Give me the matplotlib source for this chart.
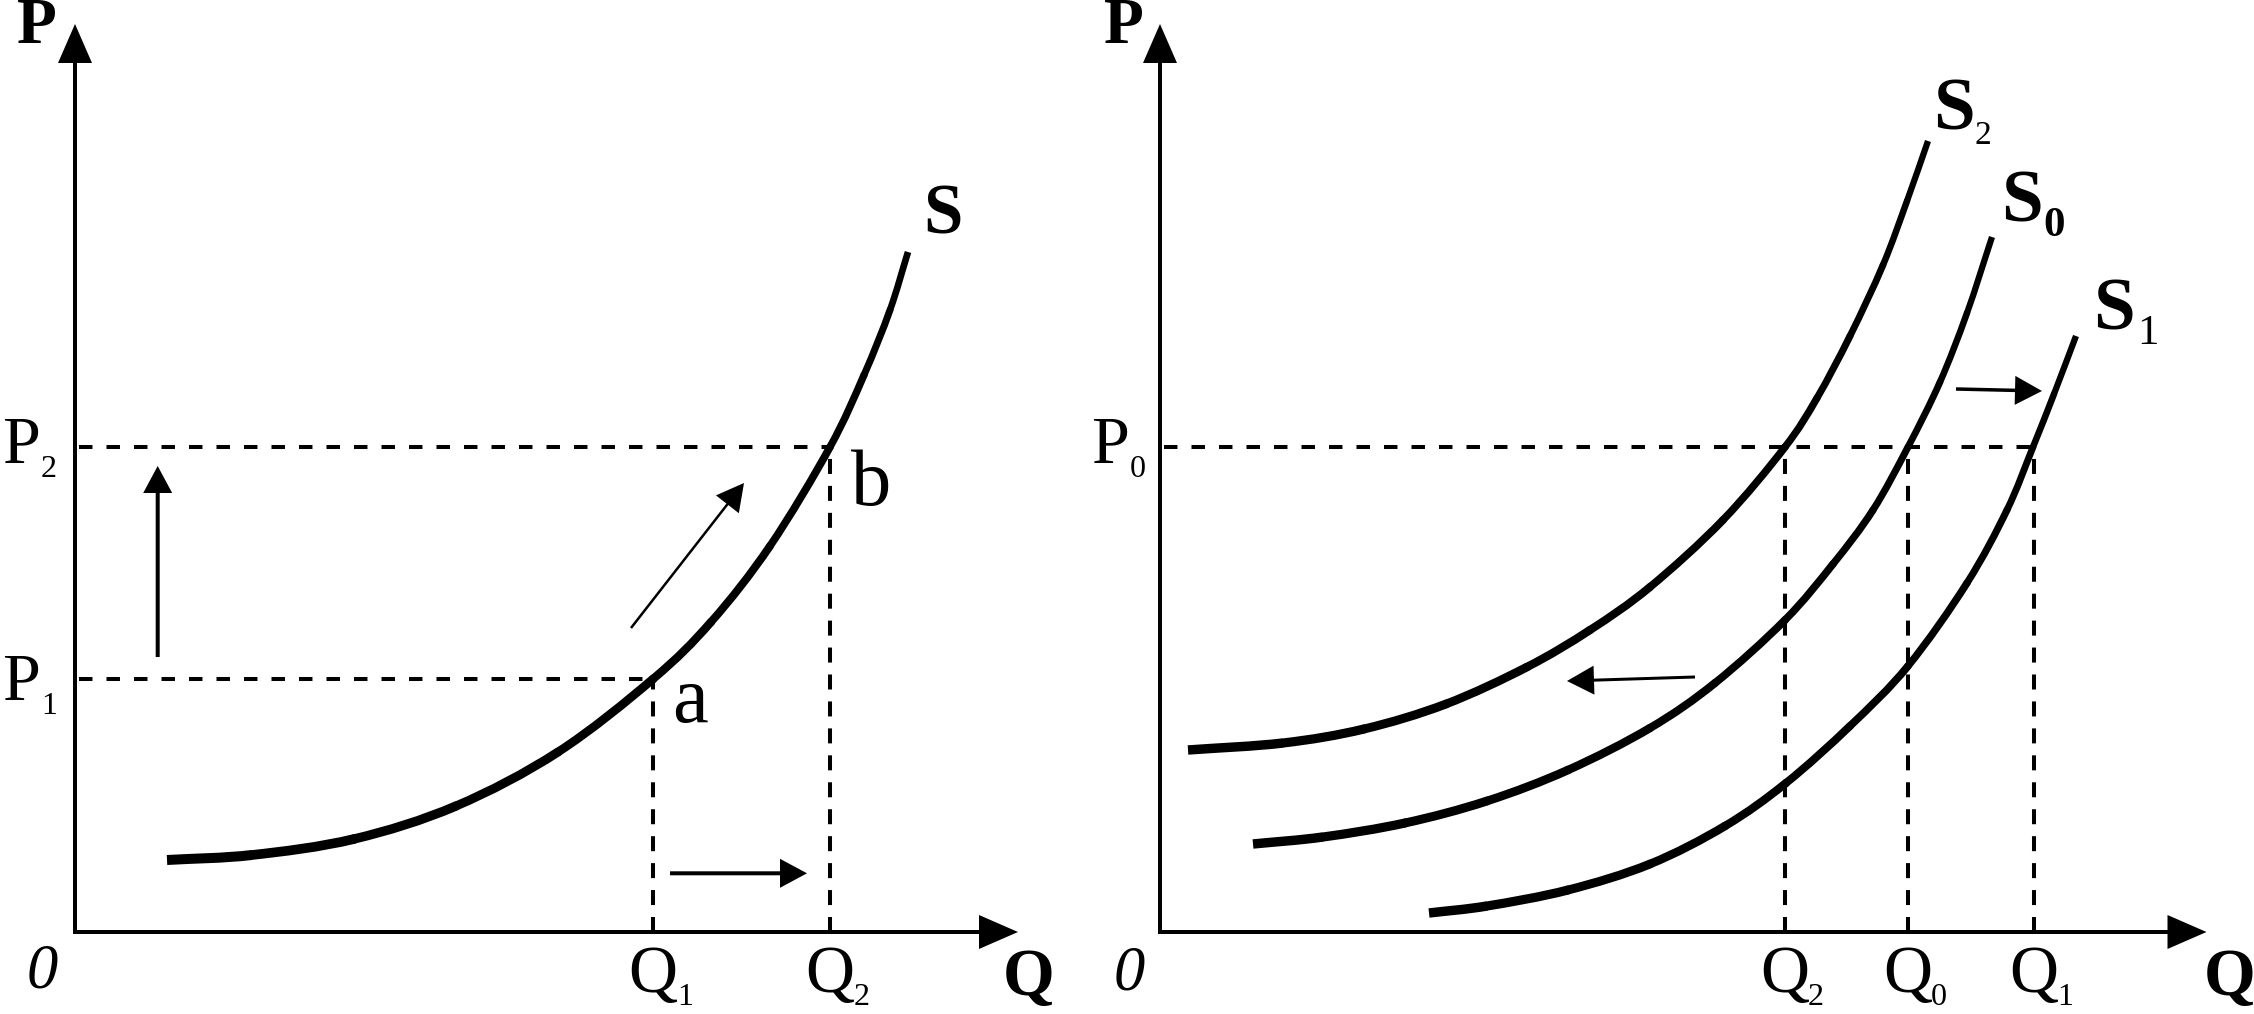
import numpy as np
import matplotlib
matplotlib.use("Agg")
import matplotlib.pyplot as plt
from matplotlib.path import Path
from matplotlib.patches import PathPatch

plt.rcParams['lines.scale_dashes'] = False
SERIF = ['Liberation Serif', 'DejaVu Serif']

# --- data (units: quantity Q, price P) ---
# left panel: movement along one supply curve
s_q = [9.2, 17.7, 27.9, 38.1, 48.3, 57.8, 63.6, 69.5, 75.5, 78.9, 81.5, 83.3]
s_p = [7.2, 7.7, 9.3, 12.6, 18.0, 25.3, 31.0, 38.6, 48.5, 55.7, 62.2, 68.0]
left_prices = [25.3, 48.5]          # P1, P2
left_price_subs = ['1', '2']
left_qty = [57.8, 75.5]             # Q1, Q2
left_qty_subs = ['1', '2']
left_arrows = [((8.27, 27.5), (8.27, 46.6)),
               ((55.6, 30.4), (66.9, 44.9)),
               ((59.5, 5.87), (73.2, 5.87))]

# right panel: shifts of the supply curve
s2_q = [2.8, 12.3, 20.4, 28.6, 36.7, 43.0, 49.0, 56.3, 62.5, 65.7, 69.0, 72.3, 74.7, 76.8]
s2_p = [18.2, 18.9, 20.3, 22.8, 26.5, 30.2, 34.5, 41.2, 48.5, 53.4, 59.6, 66.7, 73.1, 79.1]
s0_q = [9.3, 16.3, 24.5, 32.7, 40.8, 49.0, 55.5, 62.5, 67.3, 71.3, 74.8, 78.0, 80.7, 83.2]
s0_p = [8.8, 9.5, 10.9, 13.1, 16.2, 20.4, 24.9, 31.2, 36.8, 42.2, 48.5, 55.0, 61.9, 69.5]
s1_q = [26.9, 32.7, 40.8, 49.0, 56.5, 62.6, 69.0, 74.8, 80.7, 84.7, 87.3, 89.4, 91.6]
s1_p = [1.9, 2.6, 4.2, 6.8, 10.6, 14.9, 20.6, 26.6, 34.9, 42.2, 48.5, 53.8, 59.6]
p0 = 48.5
right_qty = [62.5, 74.8, 87.4]      # Q2, Q0, Q1
right_qty_subs = ['2', '0', '1']
right_arrows = [((53.5, 25.5), (40.7, 25.1)),
                ((79.6, 54.3), (88.2, 54.1))]

DASH_H = (0, (9.7, 10.1))
DASH_V = (0, (10.8, 8.6))


def smooth_curve(ax, q, p, lw_start, lw_end):
    # smooth stroke through the read points, slightly thinner towards the top
    pts = np.column_stack([q, p]).astype(float)
    ext = np.vstack([2 * pts[0] - pts[1], pts, 2 * pts[-1] - pts[-2]])
    n = len(pts)
    widths = np.linspace(lw_start, lw_end, n - 1)
    for i in range(n - 1):
        a, b, c, d = ext[i], ext[i + 1], ext[i + 2], ext[i + 3]
        path = Path([b, b + (c - a) / 6, c - (d - b) / 6, c],
                    [Path.MOVETO, Path.CURVE4, Path.CURVE4, Path.CURVE4])
        cap = 'butt' if i in (0, n - 2) else 'round'
        ax.add_patch(PathPatch(path, facecolor='none', edgecolor='black',
                               lw=widths[i], capstyle=cap))


def draw_axes(ax, xmax, ymax):
    ax.arrow(-0.2, 0, xmax + 0.2, 0, width=0.4, head_width=3.4, head_length=3.9,
             length_includes_head=True, color='black', lw=0)
    ax.arrow(0, -0.2, 0, ymax + 0.2, width=0.4, head_width=3.4, head_length=3.9,
             length_includes_head=True, color='black', lw=0)


def small_arrow(ax, start, end, width=0.4, hw=2.9, hl=2.7):
    ax.arrow(start[0], start[1], end[0] - start[0], end[1] - start[1], width=width,
             head_width=hw, head_length=hl, length_includes_head=True,
             color='black', lw=0)


def label(ax, x, y, main, sub, sx, sy, size=49, sub_size=23, weight='normal',
          sub_weight='normal', ha='center'):
    ax.text(x, y, main, ha=ha, va='baseline', fontsize=size, fontweight=weight, family=SERIF)
    ax.text(sx, sy, sub, ha='left', va='baseline', fontsize=sub_size,
            fontweight=sub_weight, family=SERIF)


fig = plt.figure(figsize=(22.54, 10.14), dpi=100)
fig.patch.set_facecolor('white')

# ---------------- left panel ----------------
ax1 = fig.add_axes([0, 0, 1100 / 2254, 1])
ax1.set_xlim(-7.5, 102.5)
ax1.set_ylim(-8.2, 93.2)
ax1.axis('off')

draw_axes(ax1, 94.3, 90.8)
for p, q in zip(left_prices, left_qty):
    ax1.plot([0.4, q], [p, p], color='black', lw=2.9, ls=DASH_H)
    ax1.plot([q, q], [0, p], color='black', lw=2.9, ls=DASH_V)
smooth_curve(ax1, s_q, s_p, 7.2, 4.8)
for (st, en), w in zip(left_arrows, [0.4, 0.25, 0.4]):
    small_arrow(ax1, st, en, width=w)

for p, sub, dy in zip(left_prices, left_price_subs, [2.1, 1.6]):
    label(ax1, -5.4, p - dy, 'P', sub, -3.4, p - dy - 1.4)
for q, sub in zip(left_qty, left_qty_subs):
    label(ax1, q, -6.0, 'Q', sub, q + 2.4, -7.3)
ax1.text(59.7, 21.0, 'a', fontsize=58, family=SERIF, ha='left', va='baseline')
ax1.text(77.6, 42.7, 'b', fontsize=58, family=SERIF, ha='left', va='baseline')
ax1.text(84.8, 69.8, 'S', fontsize=51, fontweight='bold', family=SERIF, ha='left', va='baseline')
ax1.text(-3.85, 88.9, 'P', fontsize=47, fontweight='bold', family=SERIF, ha='center', va='baseline')
ax1.text(-3.3, -5.6, '0', fontsize=45, style='italic', family=SERIF, ha='center', va='baseline')
ax1.text(95.35, -6.3, 'Q', fontsize=48, fontweight='bold', family=SERIF, ha='center', va='baseline')

# ---------------- right panel ----------------
ax2 = fig.add_axes([1100 / 2254, 0, 1154 / 2254, 1])
ax2.set_xlim(-6.0, 109.4)
ax2.set_ylim(-8.2, 93.2)
ax2.axis('off')

draw_axes(ax2, 104.65, 90.8)
ax2.plot([0.4, max(right_qty)], [p0, p0], color='black', lw=2.9, ls=DASH_H)
for q in right_qty:
    ax2.plot([q, q], [0, p0], color='black', lw=2.9, ls=DASH_V)
for cq, cp in [(s2_q, s2_p), (s0_q, s0_p), (s1_q, s1_p)]:
    smooth_curve(ax2, cq, cp, 6.8, 4.5)
for (st, en), w in zip(right_arrows, [0.3, 0.35]):
    small_arrow(ax2, st, en, width=w)

label(ax2, -5.0, p0 - 1.6, 'P', '0', -3.0, p0 - 3.0)
for q, sub in zip(right_qty, right_qty_subs):
    label(ax2, q, -6.0, 'Q', sub, q + 2.3, -7.3)
label(ax2, 77.3, 80.2, 'S', '2', 81.5, 78.8, size=54, sub_size=24, weight='bold', ha='left')
label(ax2, 84.1, 71.0, 'S', '0', 88.3, 69.6, size=54, sub_size=31, weight='bold',
      sub_weight='bold', ha='left')
label(ax2, 93.3, 60.3, 'S', '1', 97.7, 58.8, size=54, sub_size=31, weight='bold', ha='left')
ax2.text(-3.65, 88.9, 'P', fontsize=47, fontweight='bold', family=SERIF, ha='center', va='baseline')
ax2.text(-3.1, -5.7, '0', fontsize=45, style='italic', family=SERIF, ha='center', va='baseline')
ax2.text(107.0, -6.3, 'Q', fontsize=48, fontweight='bold', family=SERIF, ha='center', va='baseline')

fig.savefig('out.png', dpi=100, facecolor='white')
